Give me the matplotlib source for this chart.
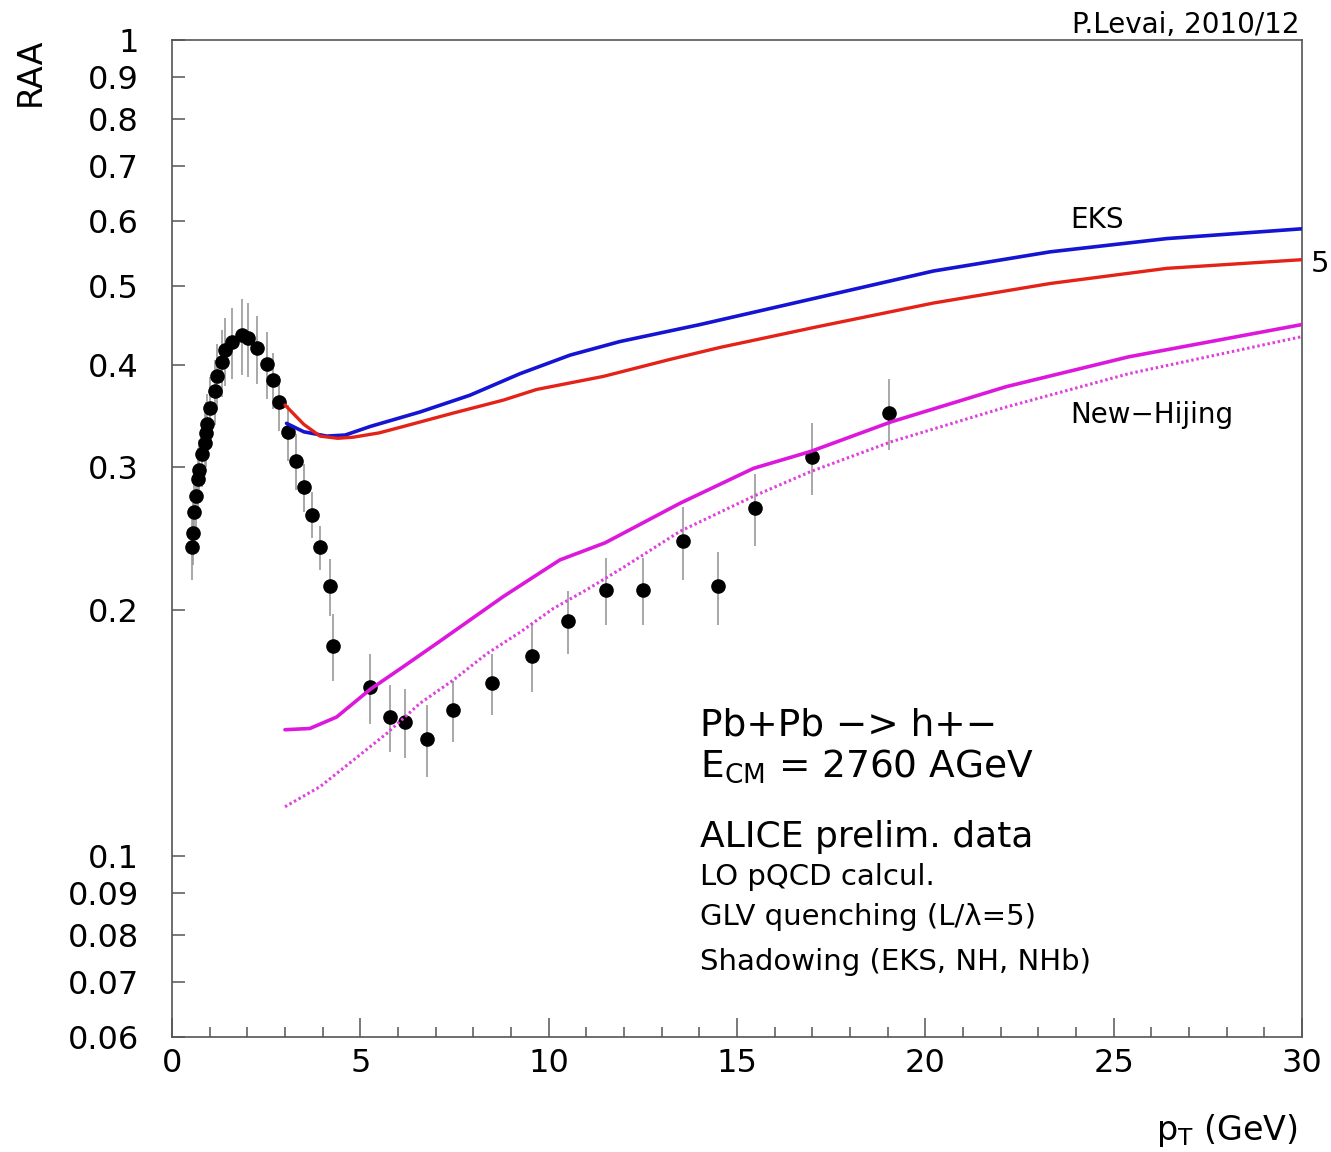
import numpy as np
import matplotlib
matplotlib.use('Agg')
import matplotlib.pyplot as plt
from matplotlib.ticker import FixedLocator, NullFormatter

plt.rcParams['font.family'] = 'DejaVu Sans'
plt.rcParams['mathtext.default'] = 'regular'

## ALICE preliminary charged hadron R_AA
pt_data = [0.52, 0.57, 0.59, 0.65, 0.70, 0.72, 0.79, 0.88, 0.90, 0.92,
           1.01, 1.14, 1.20, 1.32, 1.41, 1.58, 1.85, 2.03, 2.25, 2.51,
           2.69, 2.85, 3.07, 3.28, 3.50, 3.73, 3.93, 4.19, 4.28, 5.26,
           5.79, 6.19, 6.76, 7.47, 8.49, 9.55, 10.52, 11.52, 12.51, 13.57,
           14.50, 15.48, 16.98, 19.03]
raa_data = [0.239, 0.249, 0.264, 0.276, 0.290, 0.297, 0.311, 0.321, 0.330, 0.338,
            0.354, 0.371, 0.388, 0.403, 0.417, 0.427, 0.435, 0.431, 0.419, 0.401,
            0.383, 0.360, 0.331, 0.305, 0.283, 0.262, 0.239, 0.214, 0.181, 0.161,
            0.148, 0.146, 0.139, 0.151, 0.163, 0.176, 0.194, 0.212, 0.212, 0.243,
            0.214, 0.267, 0.308, 0.349]
raa_err = [0.021, 0.022, 0.023, 0.024, 0.026, 0.026, 0.028, 0.029, 0.030, 0.030,
           0.032, 0.034, 0.036, 0.038, 0.040, 0.043, 0.046, 0.045, 0.040, 0.038,
           0.030, 0.028, 0.026, 0.024, 0.019, 0.017, 0.015, 0.017, 0.017, 0.016,
           0.014, 0.014, 0.014, 0.013, 0.014, 0.017, 0.017, 0.020, 0.020, 0.025,
           0.022, 0.027, 0.031, 0.035]

## pQCD + GLV curves
pt_eks  = [3.04, 3.5, 4.11, 4.6, 5.26, 6.58, 7.91, 9.24, 10.57, 11.89, 13.22, 14.02,
           17.11, 20.21, 23.31, 26.41, 30.0]
raa_eks = [0.339, 0.331, 0.327, 0.328, 0.336, 0.350, 0.367, 0.390, 0.411, 0.427, 0.440, 0.448,
           0.483, 0.521, 0.550, 0.571, 0.587]

pt_red  = [3.0, 3.5, 3.93, 4.4, 4.81, 5.5, 6.14, 7.47, 8.80, 9.68, 11.45, 13.22, 14.55,
           17.11, 20.21, 23.31, 26.41, 30.0]
raa_red = [0.357, 0.338, 0.327, 0.325, 0.326, 0.330, 0.336, 0.349, 0.362, 0.373, 0.387, 0.406, 0.420,
           0.445, 0.476, 0.503, 0.525, 0.538]

pt_nh  = [3.0, 3.66, 4.37, 5.26, 6.14, 7.03, 7.91, 8.80, 9.68, 10.3, 11.5, 13.49,
          15.44, 16.95, 19.1, 22.15, 25.4, 30.0]
raa_nh = [0.1428, 0.1433, 0.148, 0.160, 0.1706, 0.1822, 0.1946, 0.208, 0.221, 0.2306, 0.242, 0.2706,
          0.2986, 0.3131, 0.3405, 0.376, 0.409, 0.448]

pt_nhb  = [3.0, 3.93, 4.81, 5.70, 6.58, 7.47, 8.36, 9.24, 10.12, 11.01, 12.0, 13.49,
           15.44, 16.95, 19.1, 22.15, 25.4, 30.0]
raa_nhb = [0.1149, 0.1216, 0.131, 0.1413, 0.1538, 0.1643, 0.177, 0.188, 0.201, 0.212, 0.226, 0.250,
           0.276, 0.2958, 0.3219, 0.355, 0.390, 0.433]

y_labels = [0.06, 0.07, 0.08, 0.09, 0.1, 0.2, 0.3, 0.4, 0.5, 0.6, 0.7, 0.8, 0.9, 1]

W, H = 1331, 1152
fig = plt.figure(figsize=(W/100, H/100), dpi=100, facecolor='w')
ax = fig.add_axes([172/W, 1 - 1037/H, (1302-172)/W, (1037-40)/H])

ax.errorbar(pt_data, raa_data, yerr=raa_err, fmt='o', color='k', ms=9.5,
            ecolor='#9a9a9a', elinewidth=1.2, capsize=0, zorder=2)

line_kw = dict(solid_joinstyle='round', solid_capstyle='round', zorder=3)
ax.plot(pt_eks, raa_eks, color='#1414d2', lw=2.6, **line_kw)
ax.plot(pt_red, raa_red, color='#e42218', lw=2.4, **line_kw)
ax.plot(pt_nh, raa_nh, color='#dd18dd', lw=2.6, **line_kw)
ax.plot(pt_nhb, raa_nhb, color='#e040e0', lw=2.2, ls=(0, (0.8, 0.9)), zorder=3)

ax.set_xlim(0, 30)
ax.set_yscale('log')
ax.set_ylim(0.06, 1.0)

ax.xaxis.set_major_locator(FixedLocator([0, 5, 10, 15, 20, 25, 30]))
ax.xaxis.set_minor_locator(FixedLocator([i for i in range(31) if i % 5]))
ax.set_xticklabels(['0', '5', '10', '15', '20', '25', '30'])

ax.yaxis.set_major_locator(FixedLocator(y_labels))
ax.set_yticklabels(['%g' % v for v in y_labels])
ax.yaxis.set_minor_locator(FixedLocator([0.1, 1.0]))
ax.yaxis.set_minor_formatter(NullFormatter())

ax.tick_params(axis='x', which='major', direction='in', length=14, width=1.1,
               labelsize=23, pad=8, color='#555555')
ax.tick_params(axis='x', which='minor', direction='in', length=7, width=1.1, color='#555555')
ax.tick_params(axis='y', which='major', direction='in', length=9, width=1.1,
               labelsize=23, pad=24, color='#555555')
ax.tick_params(axis='y', which='minor', direction='in', length=19, width=1.1, color='#555555')

for sp in ax.spines.values():
    sp.set_color('#555555')
    sp.set_linewidth(1.2)

def ftext(x, y, s, **kw):
    fig.text(x/W, 1 - y/H, s, **kw)

ftext(30, 72, 'RAA', rotation=90, ha='center', va='center', fontsize=24)
ftext(1298, 1140, r'p$_{\mathrm{T}}$ (GeV)', ha='right', va='baseline', fontsize=24)
ftext(1300, 33, 'P.Levai, 2010/12', ha='right', va='baseline', fontsize=20)
ftext(1070, 228, 'EKS', ha='left', va='baseline', fontsize=20)
ftext(1070, 423, 'New\u2212Hijing', ha='left', va='baseline', fontsize=20)
ftext(1311, 272, '5', ha='left', va='baseline', fontsize=21)

ftext(700, 735, 'Pb+Pb \u2212> h+\u2212', ha='left', va='baseline', fontsize=27)
ftext(700, 777, r'E$_{\mathrm{CM}}$ = 2760 AGeV', ha='left', va='baseline', fontsize=27)
ftext(700, 847, 'ALICE prelim. data', ha='left', va='baseline', fontsize=26)
ftext(700, 885, 'LO pQCD calcul.', ha='left', va='baseline', fontsize=21)
ftext(700, 925, 'GLV quenching (L/\u03bb=5)', ha='left', va='baseline', fontsize=21)
ftext(700, 970, 'Shadowing (EKS, NH, NHb)', ha='left', va='baseline', fontsize=21)

fig.savefig('out.png', dpi=100)
